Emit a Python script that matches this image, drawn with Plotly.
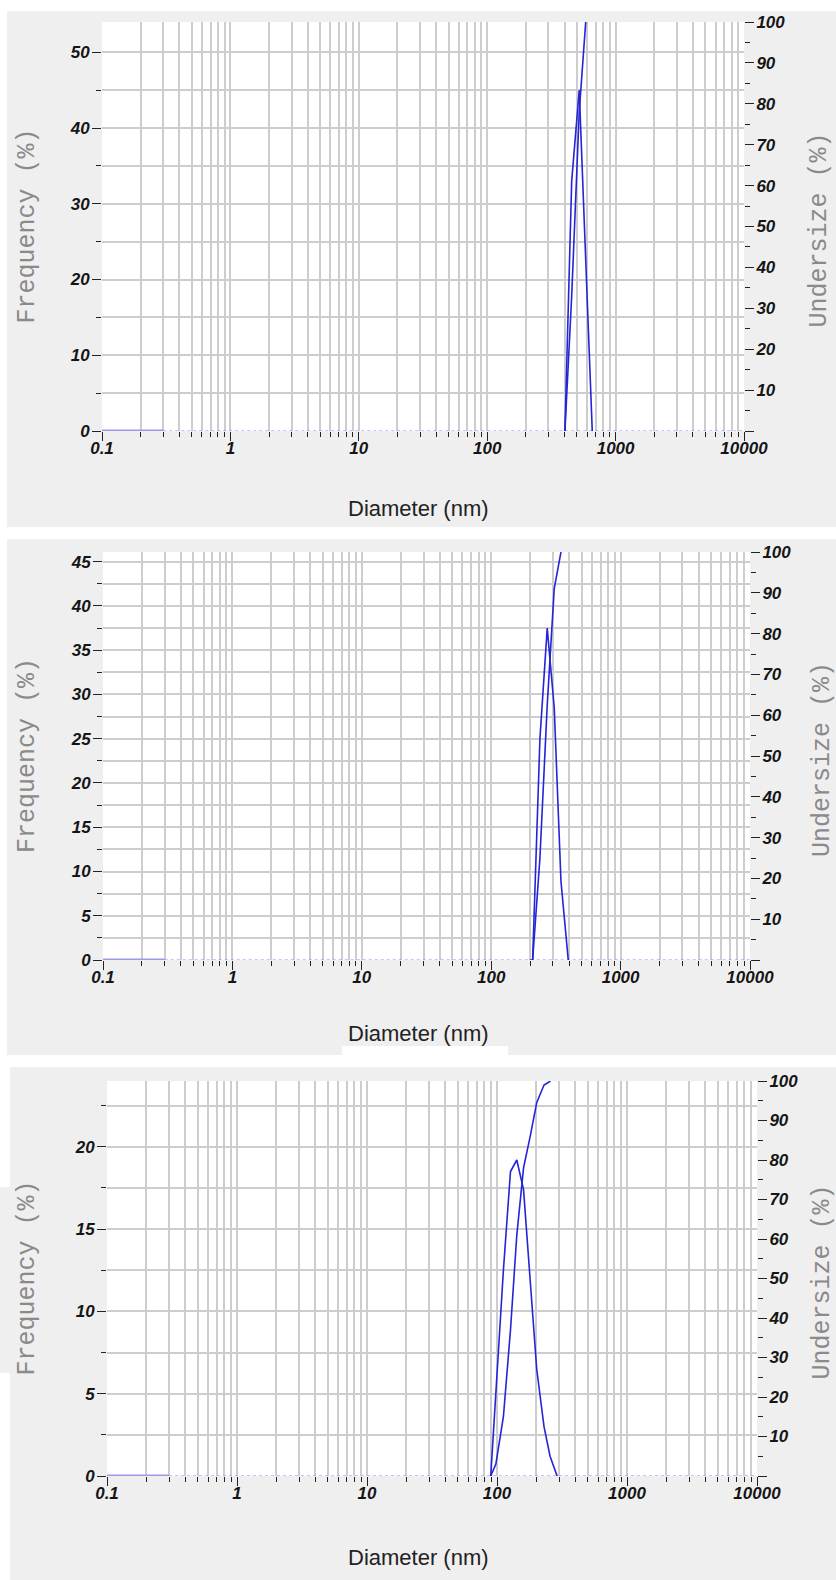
import plotly.graph_objects as go

W, H = 836, 1580

# ---------------- data ----------------
x_major_ticks = [0.1, 1, 10, 100, 1000, 10000]
x_major_text = ["0.1", "1", "10", "100", "1000", "10000"]

p1_freq_x = [403, 455, 521, 585, 658]
p1_freq_y = [0, 33, 45, 22, 0]
p1_under_x = [403, 455, 521, 585]
p1_under_y = [0, 33, 78, 100]

p2_freq_x = [200, 209, 238, 271, 307, 346, 394]
p2_freq_y = [0, 0, 25, 37.5, 28.5, 8.9, 0]
p2_under_x = [209, 238, 271, 307, 346]
p2_under_y = [0, 25, 62.5, 91, 100]

p3_freq_x = [89.5, 98, 112, 127, 142, 160, 180, 202, 230, 256, 290]
p3_freq_y = [0, 5, 12.5, 18.5, 19.2, 17.4, 12.0, 6.5, 3.0, 1.2, 0]
p3_under_x = [89.5, 98, 112, 127, 142, 160, 180, 202, 230, 258]
p3_under_y = [0, 3, 15, 37, 61, 78, 86, 94.5, 99, 100]

left_ranges = [54.0, 46.1, 24.0]
left_major = [[0, 10, 20, 30, 40, 50], [0, 5, 10, 15, 20, 25, 30, 35, 40, 45], [0, 5, 10, 15, 20]]
left_minor = [5, 2.5, 2.5]
right_major = [0, 10, 20, 30, 40, 50, 60, 70, 80, 90, 100]
right_text = ["", "10", "20", "30", "40", "50", "60", "70", "80", "90", "100"]

panels = [
    (p1_freq_x, p1_freq_y, p1_under_x, p1_under_y),
    (p2_freq_x, p2_freq_y, p2_under_x, p2_under_y),
    (p3_freq_x, p3_freq_y, p3_under_x, p3_under_y),
]

# ---------------- layout geometry (pixels) ----------------
plot_boxes = [  # left, right, top, bottom
    (102, 744, 22, 431),
    (103, 750, 552, 960),
    (107, 757, 1081, 1476),
]
gray_boxes = [
    (7, 836, 11, 527),
    (7, 836, 539, 1055),
    (10, 836, 1067, 1580),
]
xtitle_y = [509, 1033, 1557]
ytitle_right_x = [819, 822, 822]

def px(x):
    return x / W

def py(y):
    return 1 - y / H

minor_x = [m * 10 ** e for e in range(-1, 4) for m in range(2, 10)]

BLUE = "#2424d8"
LIGHT = "#8c8cf0"
GRID = "#cdcdcd"
TICKC = "#222222"
tickfont = dict(family="Arial, Liberation Sans, sans-serif", size=17, color="#151515",
                weight="bold", style="italic")

fig = go.Figure()
layout = dict(
    width=W, height=H, margin=dict(l=0, r=0, t=0, b=0, autoexpand=False),
    paper_bgcolor="white", plot_bgcolor="white", showlegend=False,
    shapes=[], annotations=[],
)

for i, (fx, fy, ux, uy) in enumerate(panels):
    n = i + 1
    xa = "x" if n == 1 else f"x{n}"
    yl_n = 2 * i + 1
    yr_n = 2 * i + 2
    yl = "y" if yl_n == 1 else f"y{yl_n}"
    yr = f"y{yr_n}"
    L, R, T, B = plot_boxes[i]
    xdom = [px(L), px(R)]
    ydom = [py(B), py(T)]

    layout[f"xaxis{'' if n == 1 else n}"] = dict(
        type="log", range=[-1, 4], domain=xdom, anchor=yl, automargin=False,
        tickvals=x_major_ticks, ticktext=x_major_text,
        ticks="outside", ticklen=9, tickwidth=1.3, tickcolor=TICKC,
        showgrid=True, gridcolor=GRID, gridwidth=1.6,
        minor=dict(tickvals=minor_x, ticks="outside", ticklen=5, tickwidth=1.3,
                   tickcolor=TICKC, showgrid=True, gridcolor=GRID, gridwidth=1.6),
        zeroline=False, showline=False, tickfont=tickfont, ticklabelstandoff=-7,
    )
    layout[f"yaxis{'' if yl_n == 1 else yl_n}"] = dict(
        range=[0, left_ranges[i]], domain=ydom, anchor=xa, automargin=False,
        tickvals=left_major[i], ticks="outside", ticklen=9, tickwidth=1.3, tickcolor=TICKC,
        showgrid=True, gridcolor=GRID, gridwidth=1.6,
        minor=dict(dtick=left_minor[i], ticks="outside", ticklen=5, tickwidth=1.3,
                   tickcolor=TICKC, showgrid=True, gridcolor=GRID, gridwidth=1.6),
        zeroline=False, showline=False, tickfont=tickfont, ticklabelstandoff=-1,
    )
    layout[f"yaxis{yr_n}"] = dict(
        range=[0, 100], overlaying=yl, side="right", anchor=xa, automargin=False,
        tickvals=right_major, ticktext=right_text,
        ticks="outside", ticklen=9, tickwidth=1.3, tickcolor=TICKC,
        minor=dict(dtick=5, ticks="outside", ticklen=5, tickwidth=1.3, tickcolor=TICKC),
        showgrid=False, zeroline=False, showline=False, tickfont=tickfont, ticklabelstandoff=-1,
    )

    # flat parts of the frequency curve along the baseline
    fig.add_trace(go.Scatter(x=[0.3, 10000], y=[0, 0], mode="lines", xaxis=xa, yaxis=yl,
                             line=dict(color=LIGHT, width=1.2, dash="dot"), hoverinfo="skip"))
    fig.add_trace(go.Scatter(x=[0.1, 0.3], y=[0, 0], mode="lines", xaxis=xa, yaxis=yl,
                             line=dict(color="#9a9ae8", width=3), hoverinfo="skip"))
    # curves
    fig.add_trace(go.Scatter(x=fx, y=fy, mode="lines", xaxis=xa, yaxis=yl,
                             line=dict(color=BLUE, width=1.6), name="Frequency"))
    fig.add_trace(go.Scatter(x=ux, y=uy, mode="lines", xaxis=xa, yaxis=yr,
                             line=dict(color=BLUE, width=1.6), name="Undersize"))

    gl, gr, gt, gb = gray_boxes[i]
    layout["shapes"].append(dict(type="rect", xref="paper", yref="paper", layer="below",
                                 x0=px(gl), x1=px(gr), y0=py(gb), y1=py(gt),
                                 fillcolor="#efefef", line=dict(width=0)))
    # white plotting area on top of the gray panel
    layout["shapes"].append(dict(type="rect", xref="paper", yref="paper", layer="below",
                                 x0=px(L), x1=px(R), y0=py(B), y1=py(T),
                                 fillcolor="white", line=dict(width=0)))
    cy = (T + B) / 2
    layout["annotations"].append(dict(
        text="Frequency (%)", xref="paper", yref="paper", x=px(27), y=py(cy),
        textangle=-90, showarrow=False, xanchor="center", yanchor="middle",
        font=dict(family="Courier New, Liberation Mono, monospace", size=25, color="#8a8a8a")))
    layout["annotations"].append(dict(
        text="Undersize (%)", xref="paper", yref="paper", x=px(ytitle_right_x[i]), y=py(cy + 4),
        textangle=-90, showarrow=False, xanchor="center", yanchor="middle",
        font=dict(family="Courier New, Liberation Mono, monospace", size=25, color="#8a8a8a")))
    layout["annotations"].append(dict(
        text="Diameter (nm)", xref="paper", yref="paper", x=px(418), y=py(xtitle_y[i]),
        showarrow=False, xanchor="center", yanchor="middle",
        font=dict(family="Arial, Liberation Sans, sans-serif", size=22, color="#222222")))

# small white box under the second axis title and gray tab behind third y title
layout["shapes"].append(dict(type="rect", xref="paper", yref="paper", layer="below",
                             x0=px(342), x1=px(508), y0=py(1062), y1=py(1046),
                             fillcolor="white", line=dict(width=0)))
layout["shapes"].append(dict(type="rect", xref="paper", yref="paper", layer="below",
                             x0=px(0), x1=px(12), y0=py(1373), y1=py(1187),
                             fillcolor="#efefef", line=dict(width=0)))

fig.update_layout(**layout)
fig.write_html(
    "out.html",
    config={"displayModeBar": False},
    post_script="document.body.style.margin='0';document.body.style.padding='0';",
)
